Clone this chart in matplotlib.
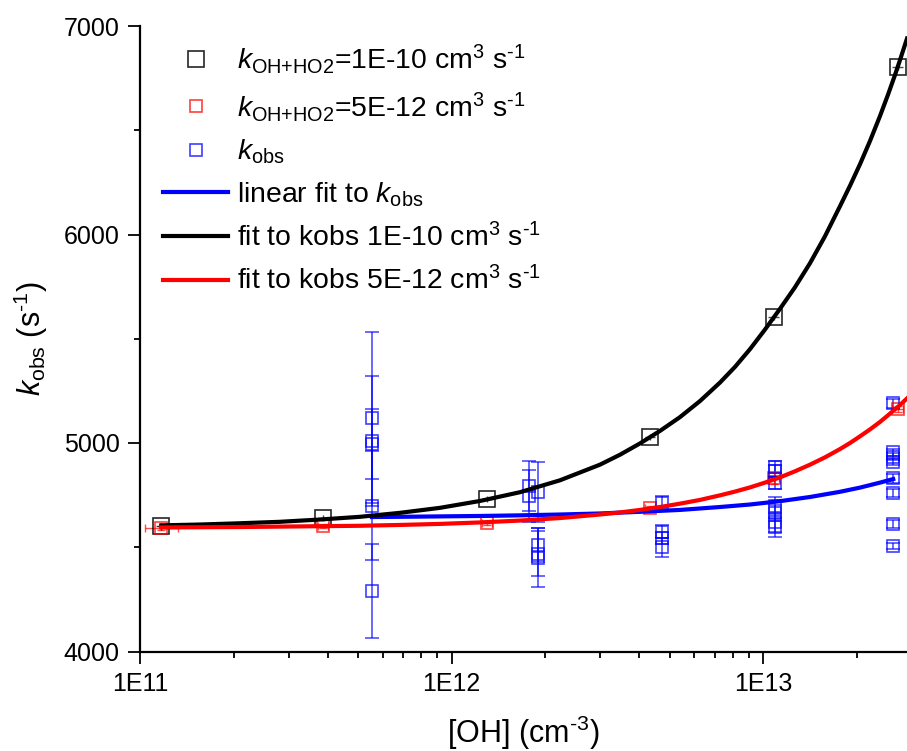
import numpy as np
import matplotlib
matplotlib.use("Agg")
import matplotlib.pyplot as plt
from matplotlib.ticker import FixedLocator, LogLocator, NullFormatter, MultipleLocator

plt.rcParams['font.family'] = ['Liberation Sans', 'DejaVu Sans']
plt.rcParams['mathtext.fontset'] = 'custom'
plt.rcParams['mathtext.rm'] = 'Liberation Sans'
plt.rcParams['mathtext.it'] = 'Liberation Sans:italic'

# -----------------
# data
# -----------------
# simulated k_obs for two values of k(OH+HO2)
oh_sim = [1.17e11, 3.87e11, 1.30e12, 4.33e12, 1.08e13, 2.70e13]
k_sim_1e10 = [4600, 4640, 4730, 5030, 5605, 6805]
k_sim_5e12 = [4592, 4603, 4615, 4688, 4832, 5163]
xerr_frac_1e10 = [0.04, 0.04, 0.04, 0.04, 0.04, 0.04]
yerr_1e10 = [15, 15, 15, 15, 15, 15]
xerr_frac_5e12 = [0.13, 0.04, 0.04, 0.04, 0.04, 0.04]
yerr_5e12 = [10, 10, 10, 10, 30, 15]

# measured k_obs
oh_obs = [5.55e11] * 5 + [1.77e12] * 2 + [1.89e12] * 4 + [4.73e12] * 4 \
    + [1.09e13] * 7 + [2.61e13] * 8
k_obs = [5120, 5010, 4995, 4700, 4290,
         4795, 4745,
         4765, 4510, 4470, 4450,
         4710, 4575, 4545, 4500,
         4885, 4865, 4810, 4700, 4665, 4620, 4595,
         5190, 4955, 4935, 4910, 4830, 4760, 4610, 4505]
k_obs_err = [410, 310, 170, 260, 225,
             120, 125,
             145, 80, 110, 140,
             35, 30, 30, 45,
             30, 30, 30, 40, 40, 45, 45,
             20, 15, 15, 15, 20, 20, 20, 15]

# fit curves, values
oh_lin = [5.55e11, 6.82e11, 9.17e11, 1.233e12, 1.656e12, 2.225e12, 2.99e12, 4.02e12,
          5.40e12, 7.26e12, 9.06e12, 1.130e13, 1.411e13, 1.762e13, 2.042e13,
          2.367e13, 2.61e13]
k_lin = [4645, 4646, 4648, 4650, 4653, 4657, 4662, 4670,
         4679, 4693, 4705, 4721, 4741, 4766, 4786,
         4810, 4827]

oh_fit = [1.17e11, 1.56e11, 2.09e11, 2.81e11, 3.78e11, 5.08e11, 6.82e11, 9.17e11,
          1.233e12, 1.656e12, 2.225e12, 2.99e12, 3.47e12, 4.02e12, 4.66e12,
          5.40e12, 6.26e12, 7.26e12, 8.11e12, 9.06e12, 1.012e13, 1.130e13,
          1.262e13, 1.411e13, 1.576e13, 1.762e13, 1.897e13, 2.042e13, 2.198e13,
          2.367e13, 2.512e13, 2.643e13, 2.742e13, 2.89e13]
k_fit_1e10 = [4605, 4609, 4615, 4622, 4633, 4646, 4665, 4689,
              4722, 4764, 4821, 4896, 4944, 4998, 5058,
              5124, 5201, 5290, 5365, 5450, 5544, 5643,
              5746, 5862, 5991, 6136, 6234, 6337, 6448,
              6568, 6671, 6764, 6835, 6940]
k_fit_5e12 = [4595, 4596, 4597, 4599, 4601, 4603, 4607, 4612,
              4619, 4628, 4640, 4657, 4667, 4679, 4693,
              4709, 4727, 4749, 4767, 4787, 4810, 4835,
              4864, 4896, 4931, 4971, 5000, 5032, 5065,
              5101, 5133, 5161, 5182, 5214]


def xerr_pair(x, frac):
    x = np.asarray(x)
    frac = np.asarray(frac)
    return [x - x / (1 + frac), x * frac]


fig = plt.figure(figsize=(9.07, 7.51), dpi=100)
ax = fig.add_axes([140 / 907, 99.5 / 751, 767 / 907, 625.5 / 751])

# error bars first
ax.errorbar(oh_obs, k_obs, yerr=k_obs_err, fmt='none', ecolor='blue', elinewidth=1.1,
            capsize=5, capthick=1.1, alpha=0.75, zorder=2)
ax.errorbar(oh_sim, k_sim_5e12, xerr=xerr_pair(oh_sim, xerr_frac_5e12), yerr=yerr_5e12,
            fmt='none', ecolor='red', elinewidth=1.0, capsize=3, alpha=0.7, zorder=2)
ax.errorbar(oh_sim, k_sim_1e10, xerr=xerr_pair(oh_sim, xerr_frac_1e10), yerr=yerr_1e10,
            fmt='none', ecolor='black', elinewidth=1.0, capsize=0, alpha=0.7, zorder=2)

h_blk, = ax.plot(oh_sim, k_sim_1e10, ls='none', marker='s', ms=11, mfc='none',
                 mec='black', mew=1.2, alpha=0.85, zorder=3,
                 label=r'$k_{\mathrm{OH{+}HO2}}$=1E-10 cm$^3$ s$^{\text{-1}}$')
h_red, = ax.plot(oh_sim, k_sim_5e12, ls='none', marker='s', ms=8.5, mfc='none',
                 mec='red', mew=1.2, alpha=0.75, zorder=3,
                 label=r'$k_{\mathrm{OH{+}HO2}}$=5E-12 cm$^3$ s$^{\text{-1}}$')
h_obs, = ax.plot(oh_obs, k_obs, ls='none', marker='s', ms=9, mfc='none',
                 mec='blue', mew=1.2, alpha=0.75, zorder=3,
                 label=r'$k_{\mathrm{obs}}$')

h_lin, = ax.plot(oh_lin, k_lin, color='blue', lw=3, zorder=4,
                 label=r'linear fit to $k_{\mathrm{obs}}$')
h_f1, = ax.plot(oh_fit, k_fit_1e10, color='black', lw=3, zorder=5,
                label=r'fit to kobs 1E-10 cm$^3$ s$^{\text{-1}}$')
h_f2, = ax.plot(oh_fit, k_fit_5e12, color='red', lw=3, zorder=6,
                label=r'fit to kobs 5E-12 cm$^3$ s$^{\text{-1}}$')

ax.set_xscale('log')
ax.set_xlim(1e11, 2.89e13)
ax.set_ylim(4000, 7000)

ax.xaxis.set_major_locator(FixedLocator([1e11, 1e12, 1e13]))
ax.set_xticklabels(['1E11', '1E12', '1E13'])
ax.xaxis.set_minor_locator(LogLocator(base=10, subs=np.arange(2, 10)))
ax.xaxis.set_minor_formatter(NullFormatter())
ax.yaxis.set_major_locator(MultipleLocator(1000))
ax.yaxis.set_minor_locator(MultipleLocator(500))

for s in ['top', 'right']:
    ax.spines[s].set_visible(False)
for s in ['left', 'bottom']:
    ax.spines[s].set_linewidth(1.6)

ax.tick_params(which='major', direction='out', length=8.5, width=1.3, labelsize=18, pad=6)
ax.tick_params(which='minor', direction='out', length=4.5, width=1.3)

ax.set_xlabel(r'[OH] (cm$^{\text{-3}}$)', fontsize=22, labelpad=13)
ax.set_ylabel(r'$k_{\mathrm{obs}}$ (s$^{\text{-1}}$)', fontsize=22, labelpad=10)

leg = ax.legend(handles=[h_blk, h_red, h_obs, h_lin, h_f1, h_f2],
                loc='upper left', bbox_to_anchor=(163 / 907, (751 - 42) / 751),
                bbox_transform=fig.transFigure, frameon=False, fontsize=20.4,
                handlelength=2.3, handletextpad=0.3, labelspacing=0.5,
                borderpad=0, borderaxespad=0)

fig.savefig('out.png', dpi=100)
